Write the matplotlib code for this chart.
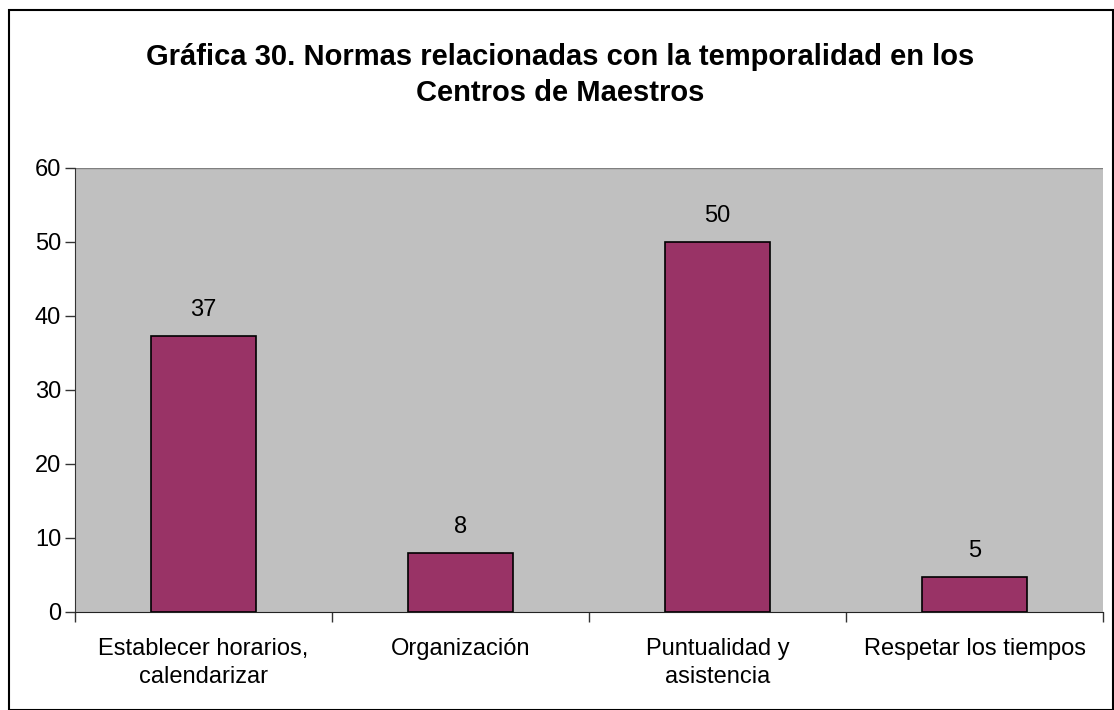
import matplotlib.pyplot as plt
from matplotlib.patches import Rectangle

plt.rcParams['font.family'] = ['Liberation Sans', 'DejaVu Sans']

categorias = ['Establecer horarios,\ncalendarizar', 'Organización',
              'Puntualidad y\nasistencia', 'Respetar los tiempos']
valores = [37.3, 8.0, 50.0, 4.7]
etiquetas = ['37', '8', '50', '5']

fig = plt.figure(figsize=(11.14, 7.1), dpi=100)
ax = fig.add_axes([75/1114, 1 - 612/710, 1028/1114, 444/710])
ax.set_facecolor('#C0C0C0')

x = range(len(categorias))
ax.bar(x, valores, width=0.41, color='#993366', edgecolor='black', linewidth=1.2, zorder=3)
for i, v in enumerate(valores):
    ax.text(i, v + 2.0, etiquetas[i], ha='center', va='bottom', fontsize=17)

ax.set_xlim(-0.5, 3.5)
ax.set_ylim(0, 60)
ax.set_yticks(range(0, 61, 10))
ax.tick_params(axis='y', labelsize=17, length=7, width=1, direction='out', color='#333333', pad=3)
ax.set_xticks([-0.5, 0.5, 1.5, 2.5, 3.5])
ax.set_xticklabels([])
ax.set_xticks(list(x), minor=True)
ax.set_xticklabels(categorias, minor=True, fontsize=17, linespacing=1.35)
ax.tick_params(axis='x', which='major', length=7, width=1, color='#333333')
ax.tick_params(axis='x', which='minor', length=0, pad=19)

ax.axhline(60, color='#808080', linewidth=1)
for s in ['top', 'right']:
    ax.spines[s].set_visible(False)
ax.spines['left'].set_color('#333333')
ax.spines['bottom'].set_color('#222222')

fig.text(560/1114, 1 - 75/710, 'Gráfica 30. Normas relacionadas con la temporalidad en los\nCentros de Maestros',
         ha='center', va='center', fontsize=21, fontweight='bold', linespacing=1.35)

fig.patches.append(Rectangle((9/1114, 0), 1104/1114, 700/710, transform=fig.transFigure,
                             fill=False, edgecolor='black', linewidth=1.5))

fig.savefig('out.png', dpi=100)
